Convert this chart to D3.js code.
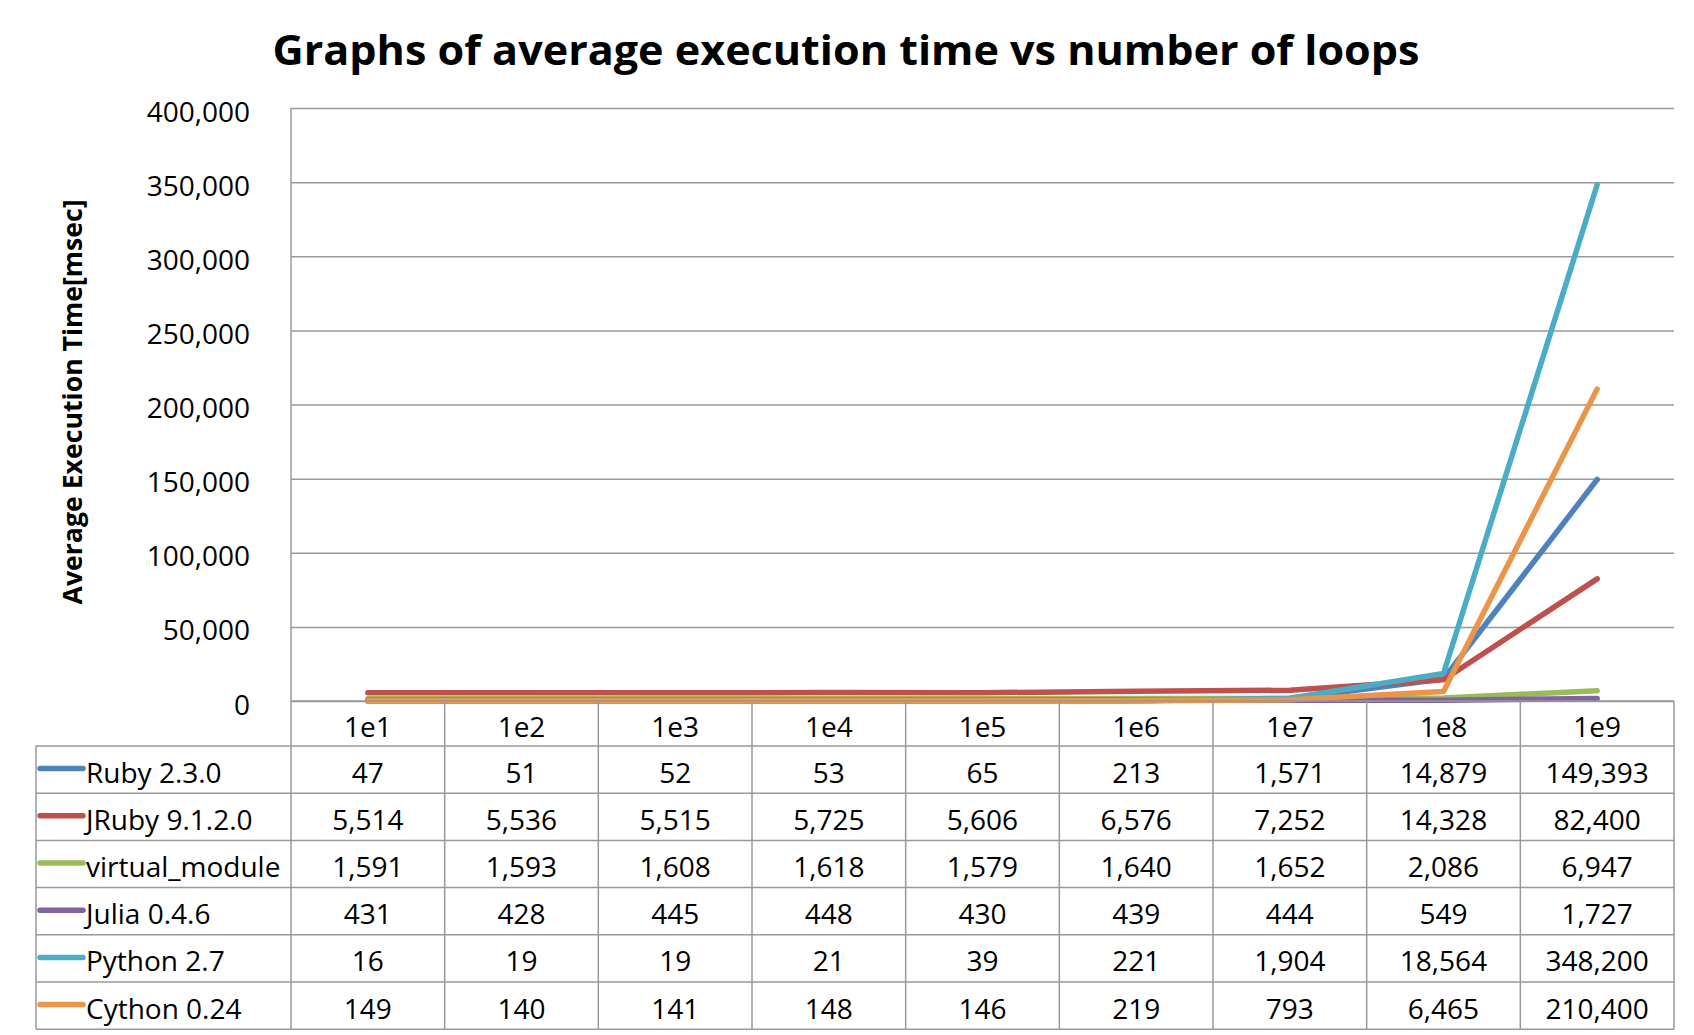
<!DOCTYPE html>
<html>
<head>
<meta charset="utf-8">
<script src="https://cdn.jsdelivr.net/npm/d3@7"></script>
<style>
  html, body { margin: 0; padding: 0; background: #fff; }
  svg { display: block; }
  text { font-family: "Open Sans", "Liberation Sans", sans-serif; fill: #000; }
</style>
</head>
<body>
<svg id="chart" width="1694" height="1035"></svg>
<script>
const title = "Graphs of average execution time vs number of loops";
const yTitle = "Average Execution Time[msec]";
const categories = ["1e1", "1e2", "1e3", "1e4", "1e5", "1e6", "1e7", "1e8", "1e9"];
const seriesNames = ["Ruby 2.3.0", "JRuby 9.1.2.0", "virtual_module", "Julia 0.4.6", "Python 2.7", "Cython 0.24"];
const seriesColors = ["#4F81BD", "#C0504D", "#9BBB59", "#8064A2", "#4BACC6", "#EA954A"];
const ruby    = [47, 51, 52, 53, 65, 213, 1571, 14879, 149393];
const jruby   = [5514, 5536, 5515, 5725, 5606, 6576, 7252, 14328, 82400];
const vmodule = [1591, 1593, 1608, 1618, 1579, 1640, 1652, 2086, 6947];
const julia   = [431, 428, 445, 448, 430, 439, 444, 549, 1727];
const python  = [16, 19, 19, 21, 39, 221, 1904, 18564, 348200];
const cython  = [149, 140, 141, 148, 146, 219, 793, 6465, 210400];
const seriesValues = [ruby, jruby, vmodule, julia, python, cython];
const yTickValues = [0, 50000, 100000, 150000, 200000, 250000, 300000, 350000, 400000];

const svg = d3.select("#chart");
const L = 291, R = 1674, T = 108, B = 701;
const tableLeft = 36, headerH = 45, rowH = 47.2;
const gridColor = "#999999";
const fmt = d3.format(",");

const x = d3.scaleBand().domain(categories).range([L, R]).paddingInner(0).paddingOuter(0);
const y = d3.scaleLinear().domain([0, 400000]).range([B, T]);

// Title
const tt = svg.append("text")
  .attr("x", 846).attr("y", 65)
  .attr("text-anchor", "middle")
  .style("font-size", "42px").style("font-weight", "bold")
  .text(title);
const tw = tt.node().getComputedTextLength();
if (Math.abs(tw - 1147) > 4) tt.attr("textLength", 1147).attr("lengthAdjust", "spacingAndGlyphs");

// Y axis title
const yt = svg.append("text")
  .attr("transform", "translate(82,402) rotate(-90)")
  .attr("text-anchor", "middle")
  .style("font-size", "27px").style("font-weight", "bold")
  .text(yTitle);
const yw = yt.node().getComputedTextLength();
if (Math.abs(yw - 405) > 4) yt.attr("textLength", 405).attr("lengthAdjust", "spacingAndGlyphs");

// Gridlines
const yAxis = d3.axisLeft(y).tickValues(yTickValues).tickSize(-(R - L)).tickFormat(fmt).tickPadding(41);
const gy = svg.append("g").attr("transform", `translate(${L},0)`).call(yAxis);
gy.select(".domain").attr("stroke", gridColor).attr("stroke-width", 1.5).attr("d", `M0,${T}V${B}`);
gy.selectAll(".tick line").attr("stroke", gridColor).attr("stroke-width", 1.5);
gy.selectAll(".tick text")
  .attr("x", 250 - L).attr("dy", null).attr("y", 13)
  .style("font-size", "28px")
  .style("font-family", "'Open Sans', sans-serif")
  .attr("fill", "#000");

// Lines
const line = d3.line()
  .x((d, i) => x(categories[i]) + x.bandwidth() / 2)
  .y(d => y(d));
svg.append("g").selectAll("path")
  .data(seriesValues)
  .join("path")
  .attr("d", d => line(d))
  .attr("fill", "none")
  .attr("stroke", (d, i) => seriesColors[i])
  .attr("stroke-width", 5.5)
  .attr("stroke-linecap", "round")
  .attr("stroke-linejoin", "round");

// Data table
const tbl = svg.append("g");
const rowTop = i => B + headerH + i * rowH;
const tableBottom = rowTop(seriesNames.length);

// horizontal lines
tbl.append("line").attr("x1", L).attr("x2", R).attr("y1", B).attr("y2", B)
  .attr("stroke", gridColor).attr("stroke-width", 1.5);
for (let i = 0; i <= seriesNames.length; i++) {
  tbl.append("line").attr("x1", tableLeft).attr("x2", R)
    .attr("y1", rowTop(i)).attr("y2", rowTop(i))
    .attr("stroke", gridColor).attr("stroke-width", 1.5);
}
// vertical lines
tbl.append("line").attr("x1", tableLeft).attr("x2", tableLeft)
  .attr("y1", rowTop(0)).attr("y2", tableBottom)
  .attr("stroke", gridColor).attr("stroke-width", 1.5);
categories.forEach(c => {
  tbl.append("line").attr("x1", x(c)).attr("x2", x(c))
    .attr("y1", B).attr("y2", tableBottom)
    .attr("stroke", gridColor).attr("stroke-width", 1.5);
});
tbl.append("line").attr("x1", R).attr("x2", R)
  .attr("y1", B).attr("y2", tableBottom)
  .attr("stroke", gridColor).attr("stroke-width", 1.5);

// header labels
tbl.selectAll("text.hdr").data(categories).join("text")
  .attr("class", "hdr")
  .attr("x", d => x(d) + x.bandwidth() / 2)
  .attr("y", B + headerH / 2 + 13)
  .attr("text-anchor", "middle")
  .style("font-size", "28px")
  .text(d => d);

// rows
seriesNames.forEach((name, i) => {
  const cy = rowTop(i) + rowH / 2;
  tbl.append("line")
    .attr("x1", 40).attr("x2", 83).attr("y1", cy - 1).attr("y2", cy - 1)
    .attr("stroke", seriesColors[i]).attr("stroke-width", 5.5)
    .attr("stroke-linecap", "round");
  tbl.append("text")
    .attr("x", 86).attr("y", cy + 13)
    .style("font-size", "28px")
    .text(name);
  tbl.selectAll(null).data(seriesValues[i]).join("text")
    .attr("x", (d, j) => x(categories[j]) + x.bandwidth() / 2)
    .attr("y", cy + 13)
    .attr("text-anchor", "middle")
    .style("font-size", "28px")
    .text(d => fmt(d));
});
</script>
</body>
</html>
